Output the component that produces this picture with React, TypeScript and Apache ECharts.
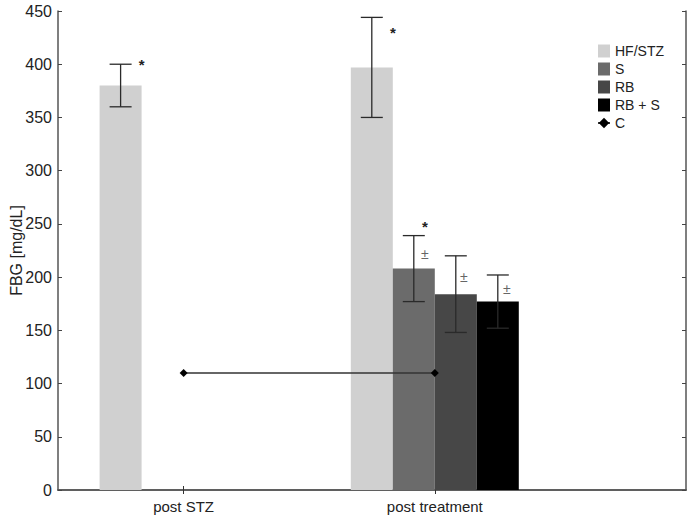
import React, { useEffect, useRef } from "react";
import * as echarts from "echarts";

// Category slots on the x axis; the empty ones only pad the axis range.
const categories = ["", "post STZ", "", "post treatment", "", ""];
const seriesNames = ["HF/STZ", "S", "RB", "RB + S"];

// Mean fasting blood glucose (mg/dL) per group
const hfStzMeans = [null, 380, null, 397, null, null];
const sMeans = [null, null, null, 208, null, null];
const rbMeans = [null, null, null, 184, null, null];
const rbsMeans = [null, null, null, 177, null, null];

// Error (± SD) per group
const hfStzErr = [null, 20, null, 47, null, null];
const sErr = [null, null, null, 31, null, null];
const rbErr = [null, null, null, 36, null, null];
const rbsErr = [null, null, null, 25, null, null];

// Control group
const controlMeans = [null, 110, null, 110, null, null];

// Significance markers: [category index, series index, level (mg/dL), symbol]
const markCategory = [1, 3, 3, 3, 3, 3];
const markSeries = [0, 0, 1, 1, 2, 3];
const markLevel = [400, 430, 248, 222, 200, 189];
const markText = ["*", "*", "*", "±", "±", "±"];

const yTicks = { min: 0, max: 450, interval: 50 };

const BAR_WIDTH = 42;
const SLOT = [-1.5, -0.5, 0.5, 1.5];
const MARK_DX = [21, 11, 8, 9];
const barColors = ["#d0d0d0", "#6b6b6b", "#474747", "#000000"];
const FONT = "'Liberation Sans', Arial, sans-serif";

const meansBySeries = [hfStzMeans, sMeans, rbMeans, rbsMeans];
const errBySeries = [hfStzErr, sErr, rbErr, rbsErr];

const errorItems: number[][] = [];
meansBySeries.forEach((means, s) => {
  means.forEach((m, i) => {
    const e = errBySeries[s][i];
    if (m != null && e != null) errorItems.push([i, s, m, e]);
  });
});

const markItems = markCategory.map((c, k) => [c, markSeries[k], markLevel[k]]);

export default function App() {
  const ref = useRef<HTMLDivElement>(null);

  useEffect(() => {
    if (!ref.current) return;
    const chart = echarts.init(ref.current, undefined, { renderer: "svg" });
    const frame = { color: "#555", width: 1.5 };
    const showLabelled = (_i: number, v: string) => v !== "";

    chart.setOption({
      animation: false,
      textStyle: { fontFamily: FONT },
      grid: {
        left: 58,
        top: 11,
        right: 6,
        bottom: 27,
        containLabel: false,
        outerBoundsMode: "none",
      },
      legend: {
        orient: "vertical",
        left: 592,
        top: 39,
        itemWidth: 12,
        itemHeight: 13,
        itemGap: 4,
        textStyle: { fontSize: 14, color: "#222", fontFamily: FONT },
        data: [
          ...seriesNames.map((n) => ({ name: n, icon: "rect" })),
          { name: "C" },
        ],
      },
      xAxis: [
        {
          type: "category",
          data: categories,
          boundaryGap: false,
          axisLine: { lineStyle: frame },
          axisTick: { inside: true, length: 4, interval: showLabelled, lineStyle: { color: "#333" } },
          axisLabel: { interval: showLabelled, fontSize: 15, color: "#222", margin: 9 },
          splitLine: { show: false },
        },
        {
          type: "category",
          data: categories,
          boundaryGap: false,
          position: "top",
          axisLine: { lineStyle: frame },
          axisTick: { inside: true, length: 4, interval: showLabelled, lineStyle: { color: "#333" } },
          axisLabel: { show: false },
        },
      ],
      yAxis: [
        {
          type: "value",
          ...yTicks,
          name: "FBG [mg/dL]",
          nameLocation: "middle",
          nameGap: 34,
          nameMoveOverlap: false,
          nameTextStyle: { fontSize: 16, color: "#222" },
          axisLine: { show: true, lineStyle: frame },
          axisTick: { show: true, inside: true, length: 4, lineStyle: { color: "#444" } },
          axisLabel: { fontSize: 16, color: "#222", margin: 6 },
          splitLine: { show: false },
        },
        {
          type: "value",
          ...yTicks,
          position: "right",
          axisLine: { show: true, lineStyle: frame },
          axisTick: { show: true, inside: true, length: 4, lineStyle: { color: "#444" } },
          axisLabel: { show: false },
          splitLine: { show: false },
        },
      ],
      series: [
        ...seriesNames.map((name, s) => ({
          name,
          type: "bar",
          data: meansBySeries[s],
          barWidth: BAR_WIDTH,
          barGap: "0%",
          itemStyle: { color: barColors[s] },
          z: 2,
        })),
        {
          name: "C",
          type: "line",
          data: controlMeans,
          connectNulls: true,
          symbol: "diamond",
          symbolSize: 8,
          itemStyle: { color: "#000" },
          lineStyle: { color: "#333", width: 1.5 },
          z: 5,
        },
        {
          name: "error",
          type: "custom",
          data: errorItems,
          encode: { x: 0, y: 2 },
          z: 4,
          silent: true,
          renderItem: (_p: any, api: any) => {
            const cat = api.value(0);
            const s = api.value(1);
            const m = api.value(2);
            const e = api.value(3);
            const x = api.coord([cat, m])[0] + SLOT[s] * BAR_WIDTH;
            const top = api.coord([cat, m + e])[1];
            const bot = api.coord([cat, m - e])[1];
            const half = 11;
            const style = { stroke: "#2a2a2a", lineWidth: 1.3 };
            return {
              type: "group",
              children: [
                { type: "line", shape: { x1: x, y1: top, x2: x, y2: bot }, style },
                { type: "line", shape: { x1: x - half, y1: top, x2: x + half, y2: top }, style },
                { type: "line", shape: { x1: x - half, y1: bot, x2: x + half, y2: bot }, style },
              ],
            };
          },
        },
        {
          name: "marks",
          type: "custom",
          data: markItems,
          encode: { x: 0, y: 2 },
          z: 6,
          silent: true,
          renderItem: (p: any, api: any) => {
            const cat = api.value(0);
            const s = api.value(1);
            const lvl = api.value(2);
            const pt = api.coord([cat, lvl]);
            const txt = markText[p.dataIndex];
            const isStar = txt === "*";
            return {
              type: "text",
              x: pt[0] + SLOT[s] * BAR_WIDTH + MARK_DX[s],
              y: pt[1],
              style: {
                text: txt,
                fontSize: isStar ? 15 : 14,
                fontWeight: isStar ? "bold" : "normal",
                fontFamily: FONT,
                fill: isStar ? "#222" : "#666",
                align: "center",
                verticalAlign: "middle",
              },
            };
          },
        },
      ],
    });

    return () => chart.dispose();
  }, []);

  return (
    <div
      ref={ref}
      style={{ position: "absolute", left: 0, top: 0, width: 692, height: 517, background: "#fff" }}
    />
  );
}
